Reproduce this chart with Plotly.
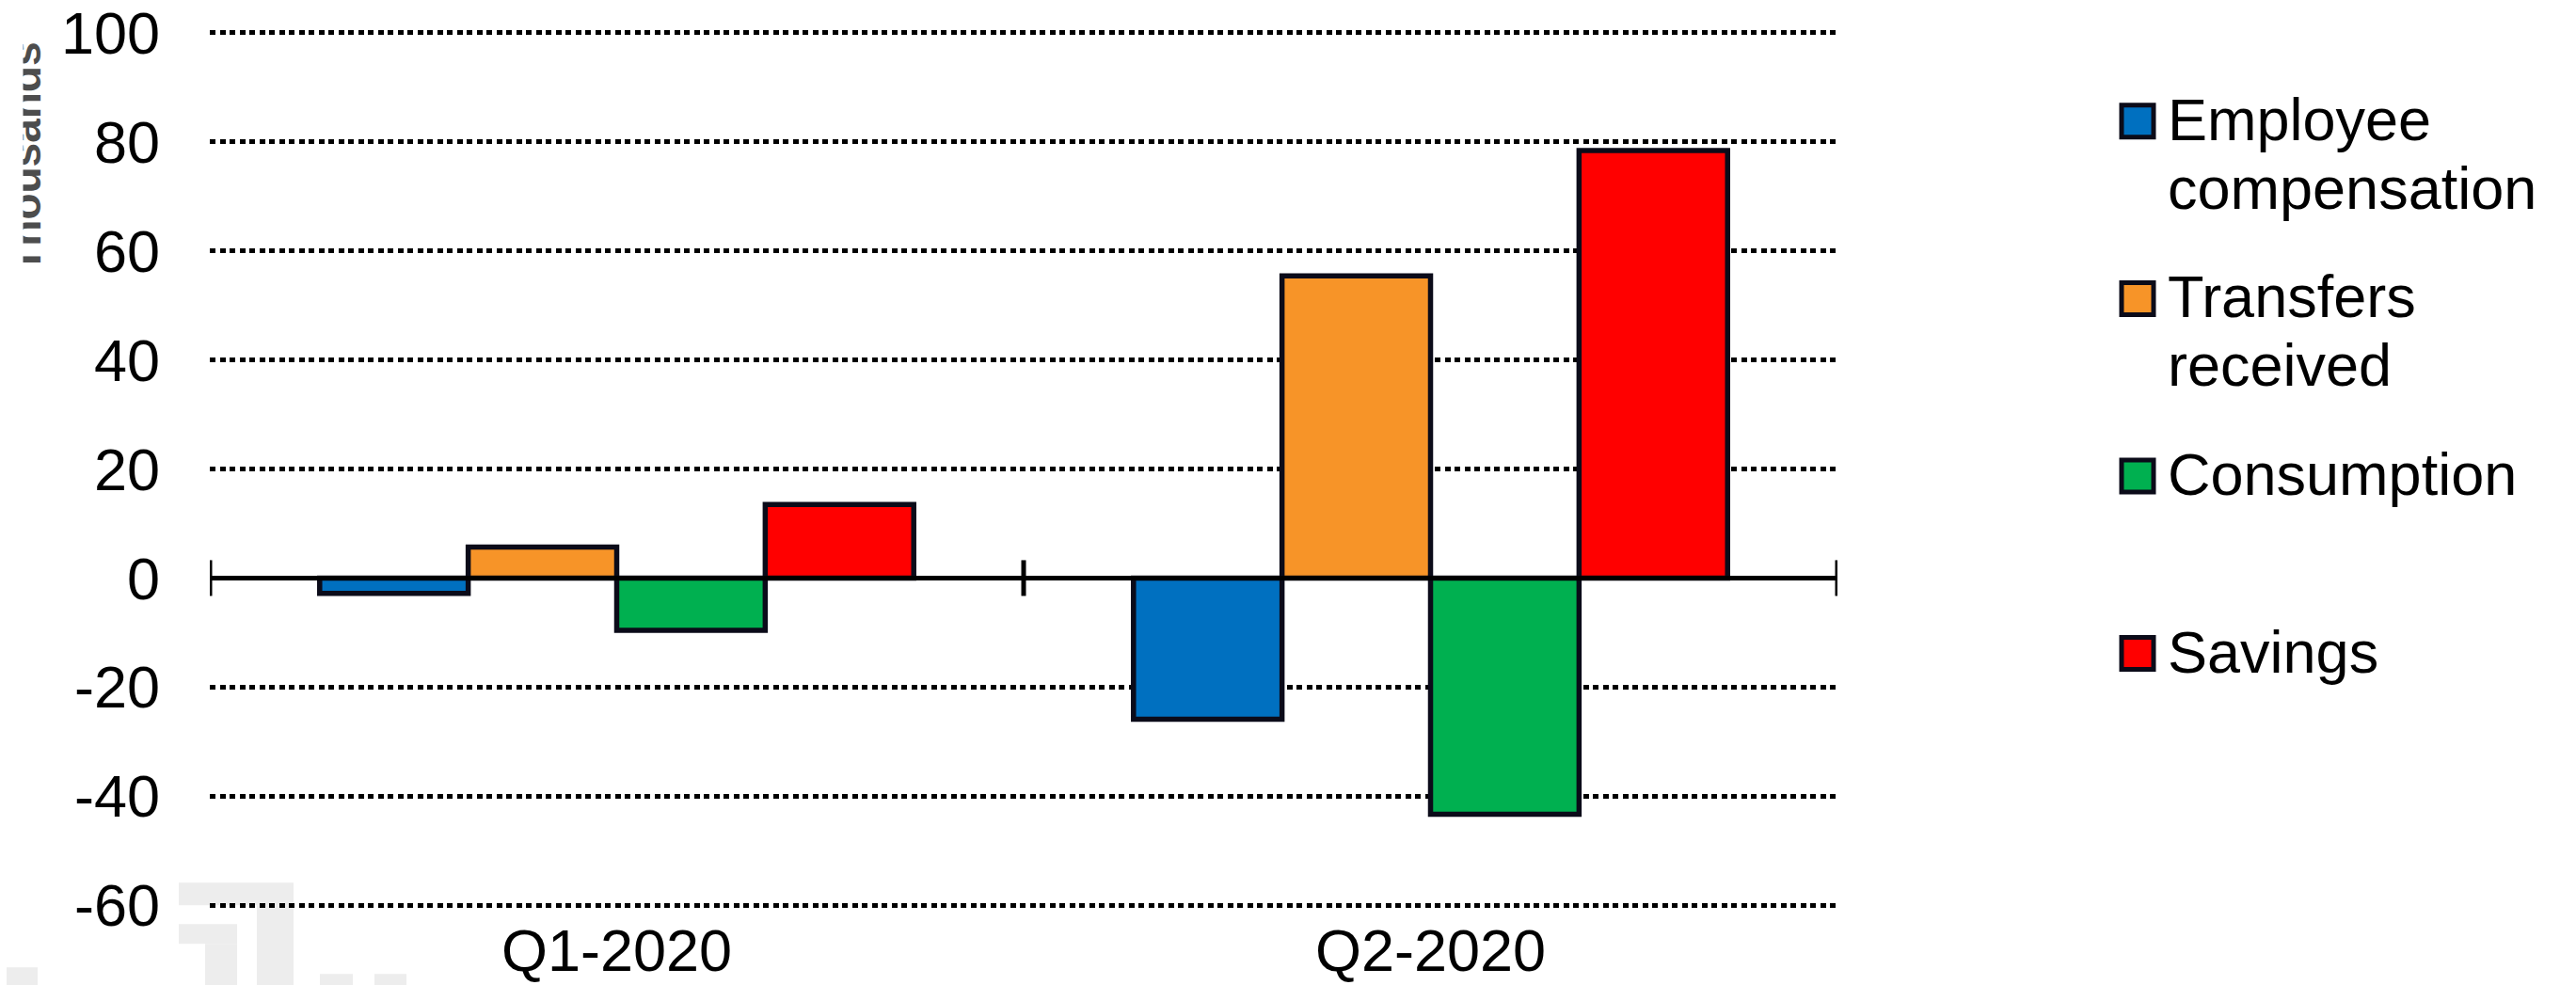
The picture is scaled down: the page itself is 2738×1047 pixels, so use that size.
import plotly.graph_objects as go

# Change in household income components, by quarter (thousands)
quarters = ["Q1-2020", "Q2-2020"]
employee_compensation = [-2.8, -25.9]
transfers_received = [5.7, 55.4]
consumption = [-9.6, -43.3]
savings = [13.5, 78.4]

series_names = ["Employee compensation", "Transfers received", "Consumption", "Savings"]
legend_lines = [["Employee", "compensation"], ["Transfers", "received"], ["Consumption"], ["Savings"]]
series_colors = ["#0070C0", "#F79428", "#00B050", "#FF0000"]
y_tick_values = [-60, -40, -20, 0, 20, 40, 60, 80, 100]
y_tick_labels = ["-60", "-40", "-20", "0", "20", "40", "60", "80", "100"]
y_axis_title = "Thousands"

OUTLINE = "#0B0B19"
FONT = "Liberation Sans, Arial, sans-serif"

# Page geometry (pixels); the value axis spans rows 35 (top) to 962 (bottom)
W, H = 2738, 1047
Y_MIN, Y_MAX = -60, 100
AX_TOP, AX_BOTTOM = 35, 962
UNIT = (AX_BOTTOM - AX_TOP) / (Y_MAX - Y_MIN)
EDGE = 0.3  # small range padding so the outermost grid lines stay visible
L, R = 223, 785
T = AX_TOP - EDGE * UNIT
B = (H - AX_BOTTOM) - EDGE * UNIT
PW = W - L - R
PH = H - T - B


def px(x):
    """Pixel column -> paper x."""
    return (x - L) / PW


def py(y):
    """Pixel row -> paper y."""
    return 1 - (y - T) / PH


fig = go.Figure()
for name, values, color in zip(
    series_names,
    [employee_compensation, transfers_received, consumption, savings],
    series_colors,
):
    fig.add_trace(
        go.Bar(
            name=name,
            x=quarters,
            y=values,
            marker=dict(color=color, line=dict(color=OUTLINE, width=5.5)),
            showlegend=False,
        )
    )

shapes = []

# Faint logo mark in the lower-left corner
logo_blocks = [
    (190, 938, 312, 962),
    (273, 962, 312, 1047),
    (190, 982, 252, 1003),
    (218, 1003, 252, 1047),
    (7, 1028, 40, 1047),
    (340, 1035, 375, 1047),
    (398, 1035, 432, 1047),
]
for x0, y0, x1, y1 in logo_blocks:
    shapes.append(dict(
        type="rect", xref="paper", yref="paper", layer="below",
        x0=px(x0), x1=px(x1), y0=py(y0), y1=py(y1),
        fillcolor="#EDEDED", line=dict(width=0),
    ))

# Solid zero line with category-boundary ticks crossing it
n = len(quarters)
shapes.append(dict(
    type="line", xref="x", yref="y", layer="above",
    x0=-0.5, x1=n - 0.5, y0=0, y1=0,
    line=dict(color="black", width=5),
))
for k in range(n + 1):
    shapes.append(dict(
        type="line", xref="x", yref="y", layer="above",
        x0=k - 0.5, x1=k - 0.5,
        ysizemode="pixel", yanchor=0, y0=-19, y1=19,
        line=dict(color="black", width=5),
    ))

annotations = []

# Legend drawn as swatches plus text lines
for i, (lines, color) in enumerate(zip(legend_lines, series_colors)):
    cy = 129 + i * 188.5
    shapes.append(dict(
        type="rect", xref="paper", yref="paper", layer="above",
        x0=px(2272 - 17), x1=px(2272 + 17), y0=py(cy + 17), y1=py(cy - 17),
        fillcolor=color, line=dict(color=OUTLINE, width=5),
    ))
    for j, line in enumerate(lines):
        annotations.append(dict(
            xref="paper", yref="paper", x=px(2302), y=py(cy - 2 + j * 73),
            xanchor="left", yanchor="middle", showarrow=False,
            text=line, font=dict(family=FONT, size=63, color="black"),
        ))

# Rotated axis title, its left edge cut off by the chart frame
annotations.append(dict(
    xref="paper", yref="paper", x=px(27), y=py(168),
    xanchor="center", yanchor="middle", showarrow=False, textangle=-90,
    text="<b>" + y_axis_title + "</b>",
    font=dict(family=FONT, size=46, color="#4D4D4D"),
))
annotations.append(dict(
    xref="paper", yref="paper", x=px(0), y=py(0),
    xanchor="left", yanchor="top", showarrow=False,
    text=" ", width=23, height=330, bgcolor="white", borderpad=0,
))

fig.update_layout(
    width=W,
    height=H,
    margin=dict(l=L, r=R, t=T, b=B, pad=0, autoexpand=False),
    paper_bgcolor="white",
    plot_bgcolor="white",
    barmode="group",
    bargap=0.27,
    bargroupgap=0,
    showlegend=False,
    font=dict(family=FONT, size=63, color="black"),
    shapes=shapes,
    annotations=annotations,
    xaxis=dict(
        type="category",
        range=[-0.5, n - 0.5],
        automargin=False,
        showgrid=False,
        zeroline=False,
        showline=False,
        ticks="",
        ticklabelstandoff=4,
        ticklabeloverflow="allow",
        tickfont=dict(family=FONT, size=63, color="black"),
    ),
    yaxis=dict(
        range=[Y_MIN - EDGE, Y_MAX + EDGE],
        automargin=False,
        tickvals=y_tick_values,
        ticktext=y_tick_labels,
        showgrid=True,
        gridcolor="black",
        gridwidth=4.5,
        griddash="6px,4.5px",
        zeroline=False,
        showline=False,
        ticks="",
        ticklabelstandoff=52,
        ticklabeloverflow="allow",
        tickfont=dict(family=FONT, size=63, color="black"),
    ),
)

fig.write_html("out.html")
